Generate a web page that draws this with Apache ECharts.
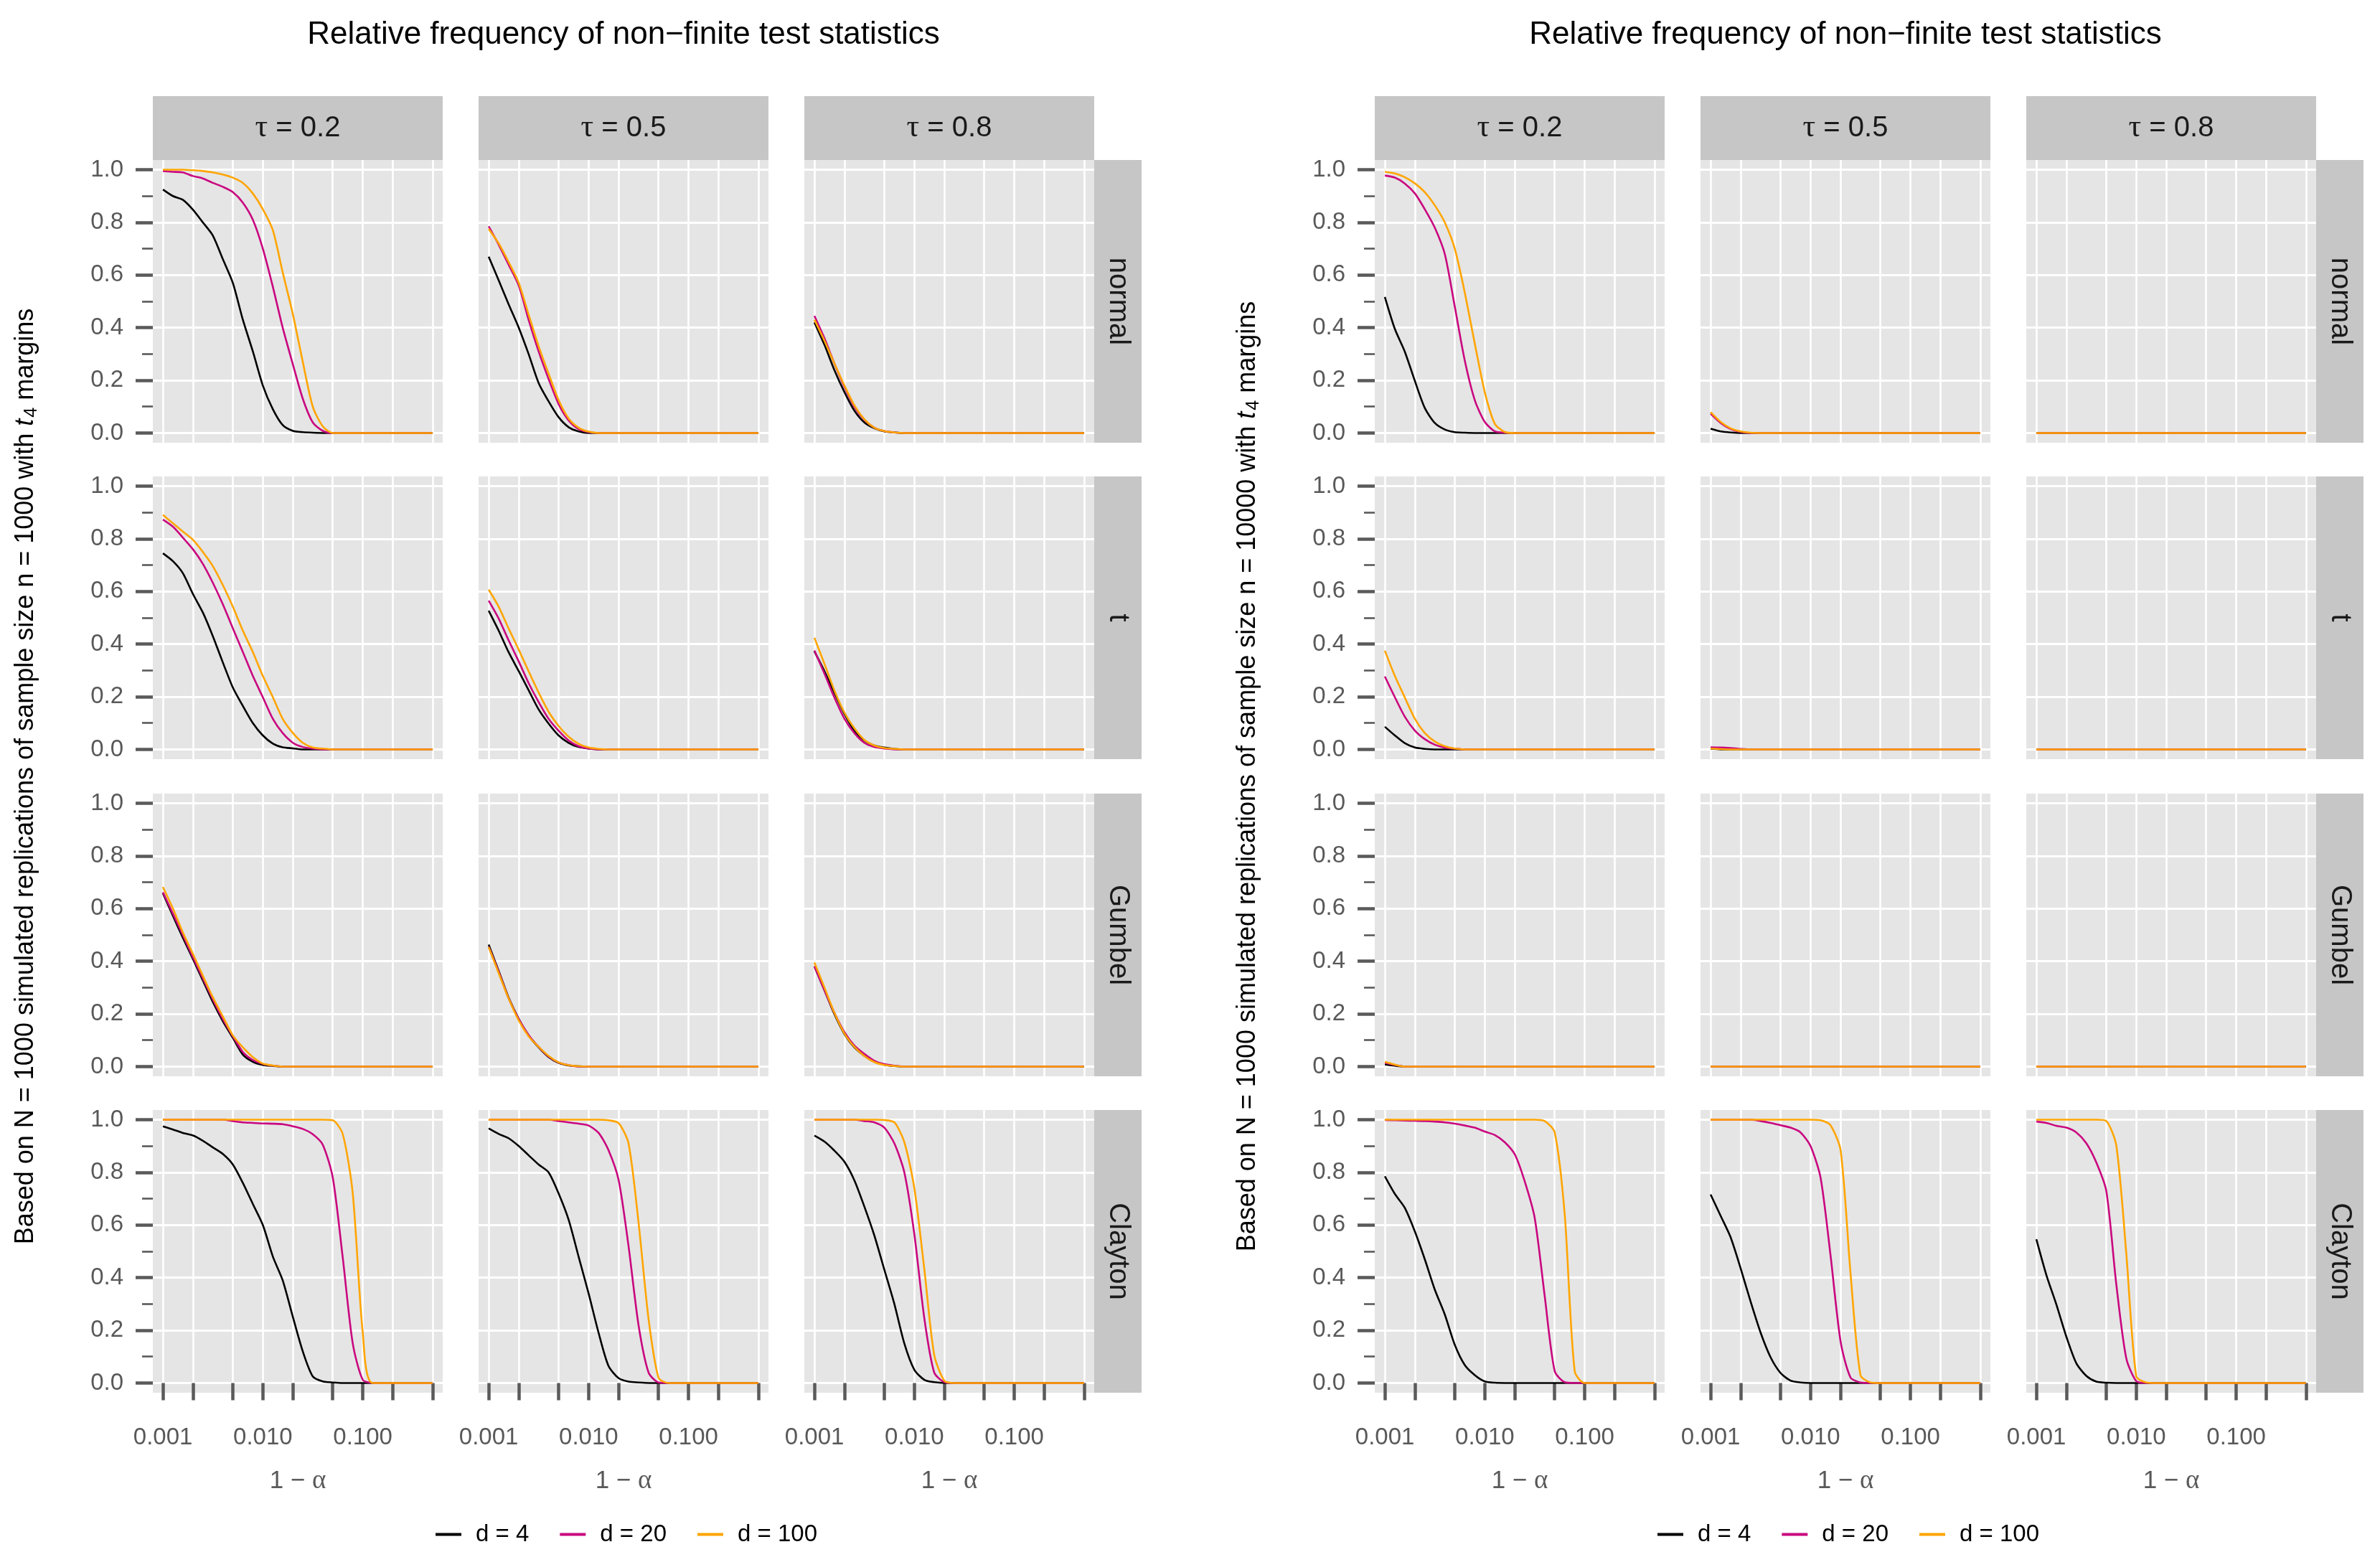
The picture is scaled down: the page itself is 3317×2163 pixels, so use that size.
<!DOCTYPE html>
<html lang="en">
<head>
<meta charset="UTF-8">
<title>Relative frequency of non-finite test statistics</title>
<script src="https://cdn.jsdelivr.net/npm/echarts@6/dist/echarts.min.js"></script>
<style>
html, body { margin: 0; padding: 0; background: #ffffff; }
#main { width: 3317px; height: 2163px; }
</style>
</head>
<body>
<div id="main"></div>
<script type="text/javascript">
// 1 - alpha, sampled every 0.1 in log10; every curve ends at alphaEnd with 0
var alphaGrid = [0.001, 0.00126, 0.00158, 0.002, 0.00251, 0.00316, 0.00398, 0.00501, 0.00631, 0.00794,
                 0.01, 0.0126, 0.0158, 0.02, 0.0251, 0.0316, 0.0398, 0.0501, 0.0631, 0.0794,
                 0.1, 0.126, 0.158];
var alphaEnd = 0.5;

var copulas = ['normal', 't', 'Gumbel', 'Clayton'];
var taus = ['0.2', '0.5', '0.8'];
var dims = ['d = 4', 'd = 20', 'd = 100'];
var dimColors = ['#000000', '#C9067F', '#FFA500'];
var sampleSizes = ['1000', '10000'];
var yMajorTicks = [0, 0.2, 0.4, 0.6, 0.8, 1.0];
var yMinorTicks = [0.1, 0.3, 0.5, 0.7, 0.9];
var xTicks = [0.001, 0.002, 0.005, 0.01, 0.02, 0.05, 0.1, 0.2, 0.5];
var xLabelTicks = [0.001, 0.01, 0.1];

// each panel: [d = 4, d = 20, d = 100], values on alphaGrid
// n = 1000
var n1000_normal_tau02 = [
    [.925, .90, .886, .848, .80, .75, .66, .57, .43, .31, .18, .09, .03, .008, .003, .001, 0],
    [.995, .992, .99, .976, .967, .95, .935, .915, .875, .81, .70, .555, .40, .26, .13, .04, .008, 0],
    [1, 1, 1, .998, .995, .99, .982, .97, .95, .91, .85, .77, .61, .45, .27, .10, .025, 0]
];
var n1000_normal_tau05 = [
    [.67, .58, .49, .40, .30, .19, .12, .06, .022, .006, 0],
    [.785, .715, .64, .56, .43, .31, .205, .11, .048, .015, .003, 0],
    [.775, .72, .65, .57, .45, .33, .225, .125, .055, .02, .005, 0]
];
var n1000_normal_tau08 = [
    [.42, .335, .24, .155, .085, .04, .018, .006, .002, 0],
    [.445, .36, .265, .175, .10, .05, .02, .007, .002, 0],
    [.43, .35, .265, .18, .105, .052, .02, .007, .002, 0]
];
var n1000_t_tau02 = [
    [.745, .715, .67, .59, .52, .43, .33, .235, .165, .10, .053, .022, .008, .004, 0],
    [.873, .846, .805, .76, .705, .633, .551, .46, .37, .279, .198, .116, .062, .025, .009, .003, 0],
    [.891, .859, .828, .796, .75, .696, .624, .542, .451, .37, .279, .198, .116, .062, .025, .007, .003, 0]
];
var n1000_t_tau05 = [
    [.527, .451, .37, .297, .225, .152, .098, .053, .025, .009, .003, 0],
    [.565, .497, .415, .334, .252, .18, .116, .071, .034, .012, .003, 0],
    [.607, .542, .46, .379, .297, .216, .143, .089, .048, .021, .007, .002, 0]
];
var n1000_t_tau08 = [
    [.372, .297, .216, .134, .071, .034, .015, .007, .002, 0],
    [.376, .288, .198, .116, .062, .025, .009, .003, 0],
    [.424, .325, .225, .139, .08, .036, .015, .005, .002, 0]
];
var n1000_gumbel_tau02 = [
    [.658, .572, .49, .408, .327, .245, .172, .109, .045, .018, .006, .002, 0],
    [.662, .58, .5, .415, .335, .255, .18, .115, .055, .025, .01, .003, 0],
    [.682, .6, .51, .427, .345, .263, .19, .118, .073, .036, .011, .004, 0]
];
var n1000_gumbel_tau05 = [
    [.463, .363, .263, .181, .118, .073, .036, .014, .004, .001, 0],
    [.455, .36, .26, .18, .12, .075, .038, .015, .005, 0],
    [.454, .355, .26, .175, .115, .075, .04, .016, .005, .001, 0]
];
var n1000_gumbel_tau08 = [
    [.381, .29, .2, .123, .073, .041, .018, .007, .002, 0],
    [.381, .29, .205, .13, .08, .048, .022, .009, .003, 0],
    [.395, .3, .205, .125, .075, .04, .017, .006, .002, 0]
];
var n1000_clayton_tau02 = [
    [.975, .963, .95, .94, .92, .895, .87, .83, .76, .68, .60, .48, .39, .25, .12, .025, .006, .002, 0],
    [1, 1, 1, 1, 1, 1, 1, .995, .99, .988, .986, .985, .983, .975, .965, .945, .905, .78, .475, .15, .012, 0],
    [1, 1, 1, 1, 1, 1, 1, 1, 1, 1, 1, 1, 1, 1, 1, 1, 1, .998, .945, .72, .19, 0]
];
var n1000_clayton_tau05 = [
    [.967, .946, .93, .90, .865, .83, .80, .72, .62, .48, .34, .19, .065, .018, .005, .002, 0],
    [1, 1, 1, 1, 1, 1, 1, .995, .99, .985, .978, .95, .885, .77, .52, .22, .04, .002, 0],
    [1, 1, 1, 1, 1, 1, 1, 1, 1, 1, 1, 1, .998, .987, .91, .61, .244, .02, 0]
];
var n1000_clayton_tau08 = [
    [.94, .917, .883, .84, .77, .67, .56, .43, .30, .15, .05, .012, .003, 0],
    [1, 1, 1, 1, 1, .995, .99, .97, .91, .80, .565, .244, .04, .003, 0],
    [1, 1, 1, 1, 1, 1, 1, .999, .99, .915, .74, .43, .107, .008, 0]
];

// n = 10000
var n10000_normal_tau02 = [
    [.517, .395, .31, .197, .095, .038, .013, .003, .001, 0],
    [.978, .97, .948, .91, .85, .78, .68, .48, .275, .125, .042, .006, .001, 0],
    [.992, .986, .972, .948, .915, .865, .80, .70, .533, .34, .155, .035, .004, 0]
];
var n10000_normal_tau05 = [
    [.016, .006, .002, 0],
    [.073, .038, .015, .004, 0],
    [.079, .042, .018, .006, .001, 0]
];
var n10000_normal_tau08 = [[0], [0], [0]];
var n10000_t_tau02 = [
    [.086, .053, .024, .007, .002, 0],
    [.277, .198, .125, .071, .039, .018, .007, .003, 0],
    [.375, .279, .198, .116, .062, .03, .012, .003, 0]
];
var n10000_t_tau05 = [[.003, 0], [.008, .007, .005, .002, 0], [.003, .001, 0]];
var n10000_t_tau08 = [[0], [0], [0]];
var n10000_gumbel_tau02 = [[.008, .003, 0], [.014, .006, 0], [.018, .007, 0]];
var n10000_gumbel_tau05 = [[0], [0], [0]];
var n10000_gumbel_tau08 = [[0], [0], [0]];
var n10000_clayton_tau02 = [
    [.785, .718, .666, .575, .47, .355, .26, .145, .068, .03, .006, .001, 0],
    [.999, .998, .997, .996, .995, .993, .99, .985, .978, .97, .955, .942, .915, .868, .766, .627, .33, .045, .003, 0],
    [1, 1, 1, 1, 1, 1, 1, 1, 1, 1, 1, 1, 1, 1, 1, 1, .995, .952, .64, .045, 0]
];
var n10000_clayton_tau05 = [
    [.716, .635, .555, .435, .31, .192, .098, .038, .009, .002, 0],
    [1, 1, 1, 1, 1, .995, .988, .979, .97, .952, .90, .78, .49, .157, .021, .002, 0],
    [1, 1, 1, 1, 1, 1, 1, 1, 1, 1, 1, .998, .98, .884, .42, .03, .002, 0]
];
var n10000_clayton_tau08 = [
    [.546, .41, .30, .175, .075, .027, .005, .001, 0],
    [.993, .988, .977, .97, .952, .911, .838, .73, .375, .094, .007, 0],
    [1, 1, 1, 1, 1, 1, 1, .995, .902, .493, .025, .002, 0]
];

var panels = [
    [
        [n1000_normal_tau02, n1000_normal_tau05, n1000_normal_tau08],
        [n1000_t_tau02, n1000_t_tau05, n1000_t_tau08],
        [n1000_gumbel_tau02, n1000_gumbel_tau05, n1000_gumbel_tau08],
        [n1000_clayton_tau02, n1000_clayton_tau05, n1000_clayton_tau08]
    ],
    [
        [n10000_normal_tau02, n10000_normal_tau05, n10000_normal_tau08],
        [n10000_t_tau02, n10000_t_tau05, n10000_t_tau08],
        [n10000_gumbel_tau02, n10000_gumbel_tau05, n10000_gumbel_tau08],
        [n10000_clayton_tau02, n10000_clayton_tau05, n10000_clayton_tau08]
    ]
];

// layout (px)
var chartX = [0, 1703];
var colX = [213, 667, 1121];
var rowY = [223, 664, 1106, 1547];
var panelW = 404, panelH = 394;
var stripTop = 134, stripH = 89, stripW = 66;
var xMin = -3.101, xMax = -0.2, yMin = -0.037, yMax = 1.037;

var font = 'Liberation Sans, Arial, Helvetica, sans-serif';
var serif = 'Liberation Serif, DejaVu Serif, serif';
var tickColor = '#5A5A5A';
var labelColor = '#595959';

var grids = [], xAxes = [], yAxes = [], minorAxes = [], series = [], graphics = [];
var k = 0;
for (var h = 0; h < 2; h++) {
    for (var r = 0; r < 4; r++) {
        for (var c = 0; c < 3; c++) {
            var bottomRow = r === 3, firstCol = c === 0;
            grids.push({
                left: chartX[h] + colX[c], top: rowY[r], width: panelW, height: panelH,
                show: true, backgroundColor: '#E5E5E5', borderWidth: 0
            });
            xAxes.push({
                gridIndex: k, type: 'value', min: xMin, max: xMax,
                axisLine: {show: false},
                axisTick: {show: bottomRow, customValues: xTicks.map(Math.log10), length: 24,
                    lineStyle: {color: tickColor, width: 4.5}},
                axisLabel: {show: bottomRow, customValues: xLabelTicks.map(Math.log10), margin: 46,
                    fontSize: 33, fontFamily: font, color: labelColor,
                    formatter: function (v) { return Math.pow(10, v).toFixed(3); }},
                splitLine: {show: true, lineStyle: {color: '#FFFFFF', width: 2.6}},
                name: bottomRow ? '1 \u2212 {a|\u03b1}' : '',
                nameLocation: 'middle', nameGap: 105,
                nameTextStyle: {fontSize: 35, fontFamily: font, color: labelColor,
                    rich: {a: {fontSize: 37, fontFamily: serif, color: labelColor}}}
            });
            yAxes.push({
                gridIndex: k, type: 'value', min: yMin, max: yMax,
                axisLine: {show: false},
                axisTick: {show: firstCol, customValues: yMajorTicks, length: 24,
                    lineStyle: {color: tickColor, width: 4.5}},
                axisLabel: {show: firstCol, customValues: yMajorTicks, margin: 41,
                    fontSize: 33, fontFamily: font, color: labelColor,
                    formatter: function (v) { return v.toFixed(1); }},
                splitLine: {show: true, lineStyle: {color: '#FFFFFF', width: 3}}
            });
            if (firstCol) {
                minorAxes.push({
                    gridIndex: k, type: 'value', min: yMin, max: yMax, position: 'left', offset: 0,
                    axisLine: {show: false},
                    axisTick: {show: true, customValues: yMinorTicks, length: 15,
                        lineStyle: {color: tickColor, width: 2.6}},
                    axisLabel: {show: false},
                    splitLine: {show: false}
                });
            }
            var curves = panels[h][r][c];
            for (var d = 0; d < 3; d++) {
                var pts = curves[d].map(function (v, i) { return [Math.log10(alphaGrid[i]), v]; });
                pts.push([Math.log10(alphaEnd), 0]);
                series.push({
                    name: dims[d], type: 'line', xAxisIndex: k, yAxisIndex: k, data: pts,
                    showSymbol: false, symbol: 'none', smooth: 0.25, z: 2 + d,
                    lineStyle: {color: dimColors[d], width: 2.6},
                    itemStyle: {color: dimColors[d]},
                    emphasis: {disabled: true}
                });
            }
            k++;
        }
    }

    // title
    graphics.push({
        type: 'text', x: chartX[h] + 869, y: 49,
        style: {text: 'Relative frequency of non\u2212finite test statistics', x: 0, y: 0,
            fontSize: 44, fontFamily: font, fill: '#000000',
            align: 'center', verticalAlign: 'middle', textAlign: 'center', textVerticalAlign: 'middle'}
    });
    // y axis title
    graphics.push({
        type: 'text', x: chartX[h] + 36, y: 1082, rotation: Math.PI / 2,
        style: {text: 'Based on N = 1000 simulated replications of sample size n = ' + sampleSizes[h] +
                ' with {it|t}{sub|4} margins', x: 0, y: 0,
            fontSize: 36, fontFamily: font, fill: '#000000',
            align: 'center', verticalAlign: 'middle', textAlign: 'center', textVerticalAlign: 'middle',
            rich: {
                it: {fontSize: 36, fontFamily: font, fontStyle: 'italic', fill: '#000000'},
                sub: {fontSize: 25, fontFamily: font, fill: '#000000', padding: [16, 0, 0, 2]}
            }}
    });
    // top strips
    for (var c2 = 0; c2 < 3; c2++) {
        var sx = chartX[h] + colX[c2];
        graphics.push({
            type: 'rect', z: 1,
            shape: {x: sx, y: stripTop, width: panelW, height: stripH},
            style: {fill: '#C6C6C6'}
        });
        graphics.push({
            type: 'text', z: 2, x: sx + panelW / 2, y: stripTop + stripH / 2,
            style: {text: '{g|\u03c4} = ' + taus[c2], x: 0, y: 0,
                fontSize: 40, fontFamily: font, fill: '#1A1A1A',
                align: 'center', verticalAlign: 'middle', textAlign: 'center', textVerticalAlign: 'middle',
                rich: {g: {fontSize: 44, fontFamily: serif, fill: '#1A1A1A'}}}
        });
    }
    // right strips
    for (var r2 = 0; r2 < 4; r2++) {
        var rx = chartX[h] + colX[2] + panelW;
        graphics.push({
            type: 'rect', z: 1,
            shape: {x: rx, y: rowY[r2], width: stripW, height: panelH},
            style: {fill: '#C6C6C6'}
        });
        graphics.push({
            type: 'text', z: 2, x: rx + stripW / 2, y: rowY[r2] + panelH / 2, rotation: -Math.PI / 2,
            style: {text: copulas[r2], x: 0, y: 0,
                fontSize: 40, fontFamily: font, fill: '#1A1A1A',
                align: 'center', verticalAlign: 'middle', textAlign: 'center', textVerticalAlign: 'middle'}
        });
    }
}

var legends = chartX.map(function (ox) {
    return {
        data: dims, left: ox + 602, top: 2117, orient: 'horizontal',
        icon: 'rect', itemWidth: 36, itemHeight: 4, itemGap: 43, selectedMode: false,
        textStyle: {fontSize: 33, fontFamily: font, color: '#000000', padding: [0, 0, 0, 15]}
    };
});

var myChart = echarts.init(document.getElementById('main'));
var option = {
    animation: false,
    backgroundColor: '#FFFFFF',
    grid: grids,
    xAxis: xAxes,
    yAxis: yAxes.concat(minorAxes),
    legend: legends,
    graphic: {elements: graphics},
    series: series
};
myChart.setOption(option);
</script>
</body>
</html>
